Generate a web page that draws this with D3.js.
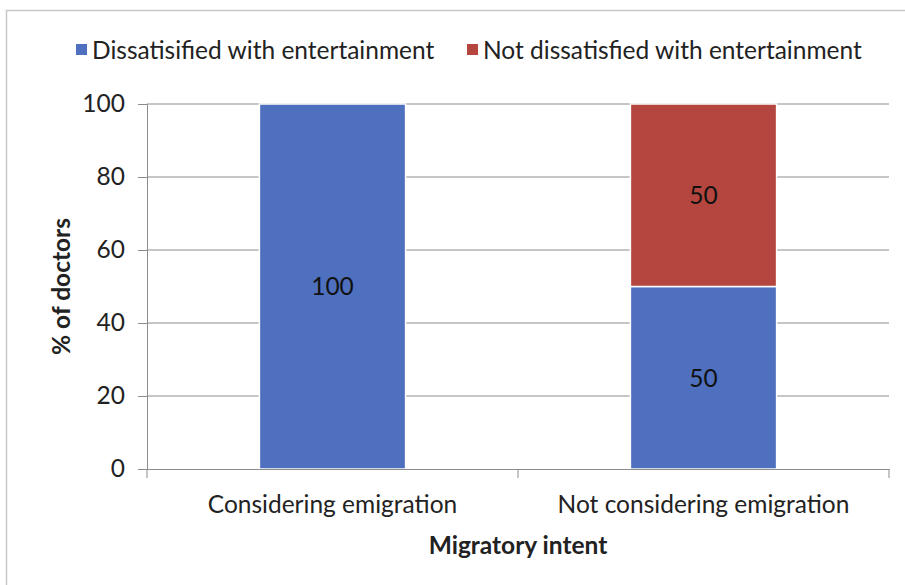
<!DOCTYPE html>
<html>
<head>
<meta charset="utf-8">
<script src="https://cdn.jsdelivr.net/npm/d3@7/dist/d3.min.js"></script>
<style>
  body { margin: 0; background: #fff; }
  svg { display: block; font-family: Lato, "Open Sans", sans-serif; }
</style>
</head>
<body>
<svg id="chart" width="905" height="585"></svg>
<script>
// Share of doctors dissatisfied with entertainment, by migratory intent
const categories = ["Considering emigration", "Not considering emigration"];
const seriesNames = ["Dissatisified with entertainment", "Not dissatisfied with entertainment"];
const dissatisfied = [100, 50];
const notDissatisfied = [0, 50];
const yTicks = [0, 20, 40, 60, 80, 100];
const colors = ["#4f6fbf", "#b4463f"];

const svg = d3.select("#chart");
const W = 905, H = 585;
const m = { left: 147, right: 16, top: 104, bottom: 116 };
const FS = 24.5;

// outer frame
svg.append("rect").attr("x", 6.5).attr("y", 10.5).attr("width", W + 10).attr("height", H + 10)
  .attr("fill", "none").attr("stroke", "#c8c8c8").attr("stroke-width", 1.5);

const x = d3.scaleBand().domain(categories).range([m.left, W - m.right]).padding(0);
const y = d3.scaleLinear().domain([0, 100]).range([H - m.bottom, m.top]);
const barW = x.bandwidth() * 0.394;

// gridlines
svg.append("g").selectAll("line").data(yTicks.filter(t => t > 0)).join("line")
  .attr("x1", m.left).attr("x2", W - m.right)
  .attr("y1", d => y(d)).attr("y2", d => y(d))
  .attr("stroke", "#8c8c8c").attr("stroke-width", 1);

// y axis
const yAxis = svg.append("g").attr("transform", `translate(${m.left},0)`)
  .call(d3.axisLeft(y).tickValues(yTicks).tickSize(9).tickPadding(13));
yAxis.select(".domain").attr("stroke", "#8c8c8c");
yAxis.selectAll(".tick line").attr("stroke", "#8c8c8c");
yAxis.selectAll("text").attr("font-size", FS).attr("fill", "#222").attr("font-family", "Lato, sans-serif");

// stacked bars
const stacked = d3.stack().keys([0, 1]).value((d, k) => d.vals[k])(
  categories.map((c, i) => ({ cat: c, vals: [dissatisfied[i], notDissatisfied[i]] }))
);

stacked.forEach((layer, k) => {
  svg.append("g").selectAll("rect").data(layer.filter(d => d[1] - d[0] > 0)).join("rect")
    .attr("x", d => x(d.data.cat) + (x.bandwidth() - barW) / 2)
    .attr("width", barW)
    .attr("y", d => y(d[1]))
    .attr("height", d => y(d[0]) - y(d[1]))
    .attr("fill", colors[k])
    .attr("stroke", "#fff").attr("stroke-width", 1.5);

  svg.append("g").selectAll("text").data(layer.filter(d => d[1] - d[0] > 0)).join("text")
    .attr("x", d => x(d.data.cat) + x.bandwidth() / 2)
    .attr("y", d => y((d[0] + d[1]) / 2))
    .attr("dy", "0.36em")
    .attr("text-anchor", "middle")
    .attr("font-size", FS).attr("fill", "#111")
    .text(d => d[1] - d[0]);
});

// x axis
const xAxis = svg.append("g").attr("transform", `translate(0,${y(0)})`)
  .call(d3.axisBottom(x).tickSize(0).tickPadding(27));
xAxis.select(".domain").attr("stroke", "#8c8c8c");
xAxis.selectAll("text").attr("font-size", FS).attr("fill", "#222").attr("font-family", "Lato, sans-serif");
// category boundary ticks
svg.append("g").selectAll("line").data(categories).join("line")
  .attr("x1", d => x(d) + x.bandwidth()).attr("x2", d => x(d) + x.bandwidth())
  .attr("y1", y(0)).attr("y2", y(0) + 9)
  .attr("stroke", "#8c8c8c");
svg.append("line").attr("x1", m.left).attr("x2", m.left)
  .attr("y1", y(0)).attr("y2", y(0) + 9).attr("stroke", "#8c8c8c");

// axis titles
svg.append("text").attr("x", (m.left + W - m.right) / 2).attr("y", 554)
  .attr("text-anchor", "middle").attr("font-size", FS).attr("font-weight", "bold").attr("fill", "#222")
  .text("Migratory intent");
svg.append("text").attr("transform", `translate(70,${(y(0) + y(100)) / 2}) rotate(-90)`)
  .attr("text-anchor", "middle").attr("font-size", FS).attr("font-weight", "bold").attr("fill", "#222")
  .text("% of doctors");

// legend
const legendX = [76, 467];
const lg = svg.append("g");
seriesNames.forEach((name, i) => {
  lg.append("rect").attr("x", legendX[i]).attr("y", 44).attr("width", 11).attr("height", 11).attr("fill", colors[i]);
  lg.append("text").attr("x", legendX[i] + 16).attr("y", 50).attr("dy", "0.36em")
    .attr("font-size", FS).attr("fill", "#222").text(name);
});
</script>
</body>
</html>
